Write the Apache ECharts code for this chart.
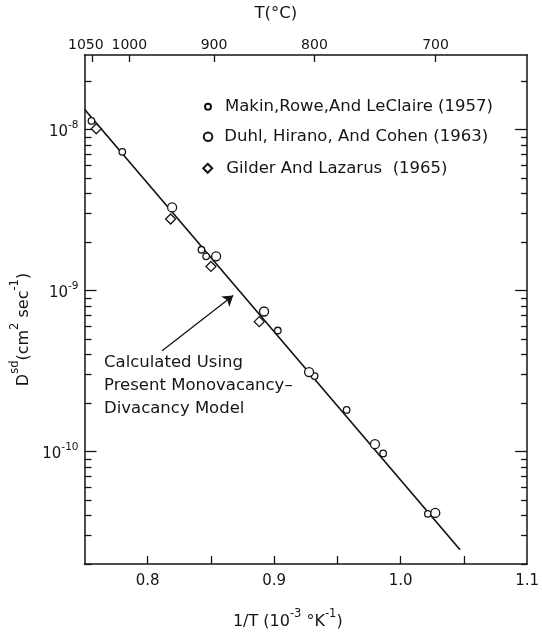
<!DOCTYPE html>
<html>
<head>
<meta charset="utf-8">
<script src="https://cdn.jsdelivr.net/npm/echarts@6/dist/echarts.min.js"></script>
<style>
  html, body { margin: 0; padding: 0; background: #fff; }
  #chart { width: 542px; height: 635px; }
</style>
</head>
<body>
<div id="chart"></div>
<script>
// Self-diffusion coefficient D^sd against reciprocal temperature 1/T (10^-3 K^-1)
const makinData = [
  [0.7555, 1.13e-8], [0.7799, 7.26e-9], [0.8425, 1.79e-9], [0.8462, 1.63e-9],
  [0.9029, 5.64e-10], [0.9320, 2.94e-10], [0.9573, 1.81e-10], [0.9862, 9.72e-11],
  [1.0215, 4.10e-11]
];
const duhlData = [
  [0.8193, 3.28e-9], [0.8541, 1.63e-9], [0.8920, 7.40e-10], [0.9276, 3.11e-10],
  [0.9797, 1.11e-10], [1.0274, 4.15e-11]
];
const gilderData = [
  [0.7593, 1.01e-8], [0.8181, 2.78e-9], [0.8500, 1.41e-9], [0.8882, 6.40e-10]
];
// Monovacancy-divacancy model curve (end points)
const modelLine = [[0.750, 1.336e-8], [1.047, 2.45e-11]];
const arrowFrom = [0.8114, 4.22e-10];
const arrowTo = [0.8676, 9.29e-10];

const seriesNames = [
  'Makin,Rowe,And LeClaire (1957)',
  'Duhl, Hirano, And Cohen (1963)',
  'Gilder And Lazarus  (1965)'
];
const annotationLines = ['Calculated Using', 'Present Monovacancy\u2013', 'Divacancy Model'];

// Axis ticks and labels
const xTickValues = [0.8, 0.85, 0.9, 0.95, 1.0, 1.05];
const xLabelValues = [0.8, 0.9, 1.0, 1.1];
const xLabelTexts = ['0.8', '0.9', '1.0', '1.1'];
const tempLabels = [1050, 1000, 900, 800, 700];          // T in degrees C
const yDecades = [1e-10, 1e-9, 1e-8];
const yDecadeExps = ['-10', '-9', '-8'];

const X_MIN = 0.75, X_MAX = 1.1;
const Y_MIN = 2e-11, Y_MAX = 2.9e-8;

// reciprocal-temperature positions of the Celsius scale
const tempPositions = tempLabels.map(t => 1000 / (t + 273.15));
// minor log ticks 2..9 within each decade
const yMinor = [];
[1e-11, 1e-10, 1e-9, 1e-8].forEach(d => {
  for (let m = 2; m <= 9; m++) {
    const v = m * d;
    if (v >= Y_MIN && v <= Y_MAX) yMinor.push(v);
  }
});

const FONT = 'DejaVu Sans';
const INK = '#151515';

function nearestIndex(arr, v, fn) {
  let best = 0, bd = Infinity;
  arr.forEach((a, i) => {
    const d = Math.abs(fn(a) - fn(v));
    if (d < bd) { bd = d; best = i; }
  });
  return best;
}
const ident = x => x;

const supRich = {
  b: { fontFamily: FONT, fontSize: 15, color: INK, lineHeight: 20, verticalAlign: 'bottom' },
  s: { fontFamily: FONT, fontSize: 10.5, color: INK, lineHeight: 12, verticalAlign: 'top' }
};
const titleRich = {
  b: { fontFamily: FONT, fontSize: 16, color: INK, lineHeight: 22, verticalAlign: 'bottom' },
  s: { fontFamily: FONT, fontSize: 11.5, color: INK, lineHeight: 13, verticalAlign: 'top' }
};

const frameLine = { show: true, lineStyle: { color: INK, width: 1.5 } };

function logAxis(position, withLine, ticks, len, labels) {
  return {
    type: 'log', logBase: 10, position: position,
    min: Y_MIN, max: Y_MAX,
    axisLine: withLine ? frameLine : { show: false },
    axisTick: { show: true, inside: true, length: len, customValues: ticks,
                lineStyle: { color: INK, width: 1.3 } },
    axisLabel: labels ? {
      show: true, customValues: yDecades, margin: 6,
      formatter: v => '{b|10}{s|' + yDecadeExps[nearestIndex(yDecades, v, Math.log10)] + '}',
      rich: supRich
    } : { show: false },
    splitLine: { show: false },
    minorTick: { show: false }
  };
}

const chart = echarts.init(document.getElementById('chart'), null, { renderer: 'canvas' });

const option = {
  animation: false,
  backgroundColor: '#fff',
  grid: { left: 84.5, right: 5.3, top: 55, bottom: 70, containLabel: false },
  xAxis: [
    {
      type: 'value', position: 'bottom', min: X_MIN, max: X_MAX,
      axisLine: frameLine,
      axisTick: { show: true, inside: true, length: 8, customValues: xTickValues,
                  lineStyle: { color: INK, width: 1.3 } },
      axisLabel: {
        show: true, customValues: xLabelValues, margin: 10,
        hideOverlap: false, showMinLabel: true, showMaxLabel: true,
        fontFamily: FONT, fontSize: 15, color: INK,
        formatter: v => xLabelTexts[nearestIndex(xLabelValues, v, ident)]
      },
      splitLine: { show: false },
      name: '{b|1/T (10}{s|-3}{b| \u00b0K}{s|-1}{b|)}',
      nameLocation: 'middle', nameGap: 44,
      nameTextStyle: { rich: titleRich, padding: [0, 36, 0, 0] }
    },
    {
      type: 'value', position: 'top', min: X_MIN, max: X_MAX,
      axisLine: frameLine,
      axisTick: { show: true, inside: true, length: 7, customValues: tempPositions,
                  lineStyle: { color: INK, width: 1.3 } },
      axisLabel: {
        show: true, customValues: tempPositions, margin: 3,
        hideOverlap: false, showMinLabel: true, showMaxLabel: true, interval: 0,
        fontFamily: FONT, fontSize: 14, color: INK,
        formatter: v => {
          const i = nearestIndex(tempPositions, v, ident);
          // the first label sits a little left of its tick, clear of its neighbour
          return i === 0 ? '{l|' + tempLabels[i] + '}' : String(tempLabels[i]);
        },
        rich: { l: { fontFamily: FONT, fontSize: 14, color: INK, padding: [0, 12, 0, 0] } }
      },
      splitLine: { show: false },
      name: 'T(\u00b0C)',
      nameLocation: 'middle', nameGap: 33,
      nameTextStyle: { fontFamily: FONT, fontSize: 16.5, color: INK, padding: [0, 60, 0, 0] }
    }
  ],
  yAxis: [
    Object.assign(logAxis('left', true, yDecades, 12, true), {
      name: '{b|D}{s|sd}{b|(cm}{s|2}{b| sec}{s|-1}{b|)}',
      nameLocation: 'middle', nameRotate: 90, nameGap: 45,
      nameTextStyle: { rich: titleRich, padding: [0, 40, 0, 0] }
    }),
    logAxis('left', false, yMinor, 7, false),
    logAxis('right', true, yDecades, 12, false),
    logAxis('right', false, yMinor, 6, false)
  ],
  legend: [
    { data: [seriesNames[0]], left: 199, top: 92.7, itemWidth: 6, itemHeight: 6,
      textStyle: { fontFamily: FONT, fontSize: 16.5, color: INK, lineHeight: 18, padding: [0, 0, 0, 9] },
      selectedMode: false },
    { data: [seriesNames[1]], left: 197.8, top: 122.7, itemWidth: 8.5, itemHeight: 8.5,
      textStyle: { fontFamily: FONT, fontSize: 16.5, color: INK, lineHeight: 18, padding: [0, 0, 0, 7] },
      selectedMode: false },
    { data: [seriesNames[2]], left: 197.2, top: 154.3, itemWidth: 9, itemHeight: 9,
      textStyle: { fontFamily: FONT, fontSize: 16.5, color: INK, lineHeight: 18, padding: [0, 0, 0, 9] },
      selectedMode: false }
  ],
  graphic: [
    {
      type: 'text', left: 104, top: 351,
      style: {
        text: annotationLines.join('\n'),
        fontFamily: FONT, fontSize: 16.5, lineHeight: 23, fill: INK
      },
      silent: true
    }
  ],
  series: [
    {
      name: 'model', type: 'line', xAxisIndex: 0, yAxisIndex: 0,
      data: modelLine, showSymbol: false, symbol: 'none', silent: true,
      lineStyle: { color: INK, width: 1.7 }, z: 2,
      markLine: {
        silent: true, symbol: ['none', 'arrow'], symbolSize: 10,
        lineStyle: { color: INK, width: 1.3, type: 'solid' },
        label: { show: false },
        data: [[{ coord: arrowFrom }, { coord: arrowTo }]]
      }
    },
    {
      name: seriesNames[0], type: 'scatter', xAxisIndex: 0, yAxisIndex: 0,
      data: makinData, symbol: 'circle', symbolSize: 6.5,
      itemStyle: { color: '#fff', borderColor: INK, borderWidth: 1.3, opacity: 1 }, z: 3
    },
    {
      name: seriesNames[1], type: 'scatter', xAxisIndex: 0, yAxisIndex: 0,
      data: duhlData, symbol: 'circle', symbolSize: 9,
      itemStyle: { color: '#fff', borderColor: INK, borderWidth: 1.3, opacity: 1 }, z: 3
    },
    {
      name: seriesNames[2], type: 'scatter', xAxisIndex: 0, yAxisIndex: 0,
      data: gilderData, symbol: 'diamond', symbolSize: 10,
      itemStyle: { color: '#fff', borderColor: INK, borderWidth: 1.3, opacity: 1 }, z: 3
    }
  ]
};

chart.setOption(option);
</script>
</body>
</html>
